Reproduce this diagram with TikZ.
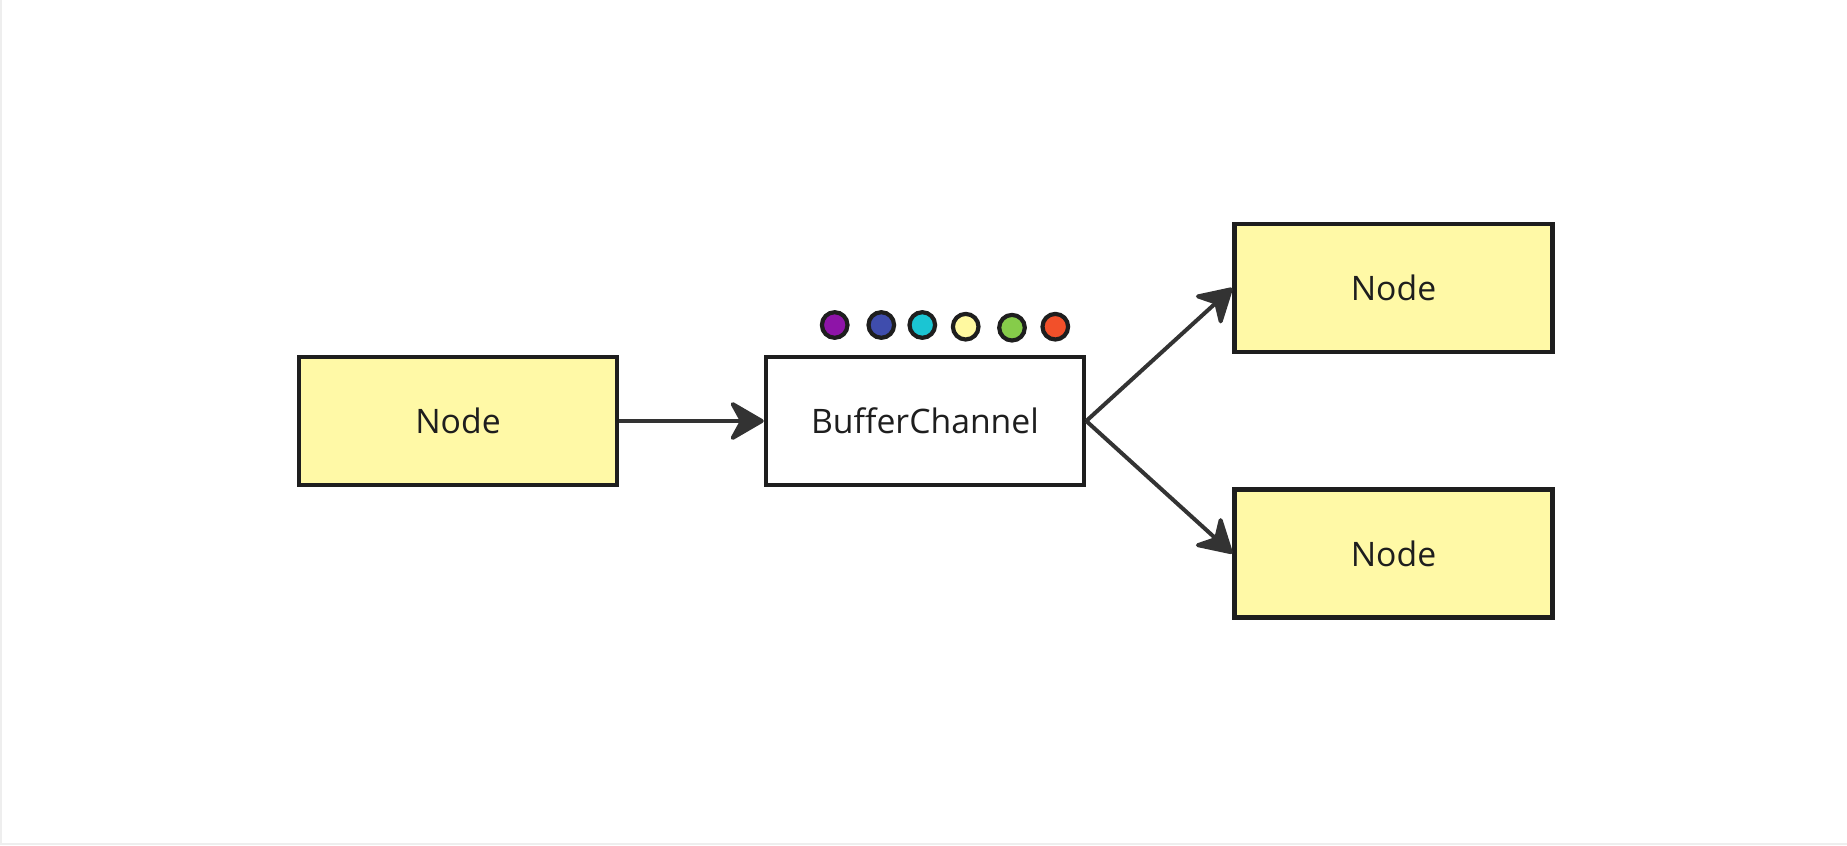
\documentclass[tikz,border=0pt]{standalone}
\usepackage{fontspec}
\setmainfont{Open Sans}
\usetikzlibrary{arrows.meta}

\begin{document}
\begin{tikzpicture}[
    box/.style={draw=boxline, line width=0.045cm, minimum width=3.18cm,
      minimum height=1.28cm, text=boxline, font=\fontsize{9.6}{11}\selectfont},
    node box/.style={box, fill=nodefill},
    link/.style={draw=linkgray, line width=0.04cm,
      -{Stealth[length=0.38cm, width=0.44cm, inset=0.12cm, round]}},
    dot/.style={draw=boxline, line width=0.042cm}
  ]
    % colours %
    \definecolor{boxline}{HTML}{1E1E1E}
    \definecolor{linkgray}{HTML}{333333}
    \definecolor{nodefill}{HTML}{FFF9A6}
    \definecolor{framegray}{HTML}{EEEEEE}
    \useasboundingbox (0,0) rectangle (18.47,8.45);
    \draw[framegray, line width=0.02cm] (0.01,8.45) -- (0.01,0.01) -- (18.47,0.01);

    % boxes %
    \node[node box] (source) at (4.58, 4.24) {Node};
    \node[box, fill=white] (buffer) at (9.25, 4.24) {BufferChannel};
    \node[node box] (upper) at (13.935, 5.57) {Node};
    \node[node box] (lower) at (13.935, 2.915) {Node};

    % buffered items %
    \filldraw[dot, fill={rgb,255:red,142;green,20;blue,168}] (8.347, 5.20) circle (0.128);
    \filldraw[dot, fill={rgb,255:red,63;green,77;blue,173}] (8.813, 5.20) circle (0.128);
    \filldraw[dot, fill={rgb,255:red,27;green,197;blue,211}] (9.223, 5.20) circle (0.128);
    \filldraw[dot, fill={rgb,255:red,255;green,249;blue,160}] (9.657, 5.183) circle (0.128);
    \filldraw[dot, fill={rgb,255:red,134;green,204;blue,74}] (10.12, 5.173) circle (0.128);
    \filldraw[dot, fill={rgb,255:red,242;green,80;blue,42}] (10.553, 5.183) circle (0.128);

    % links %
    \draw[link] (source.east) -- (buffer.west);
    \draw[link] (buffer.east) -- (upper.west);
    \draw[link] (buffer.east) -- (lower.west);
\end{tikzpicture}
\end{document}
